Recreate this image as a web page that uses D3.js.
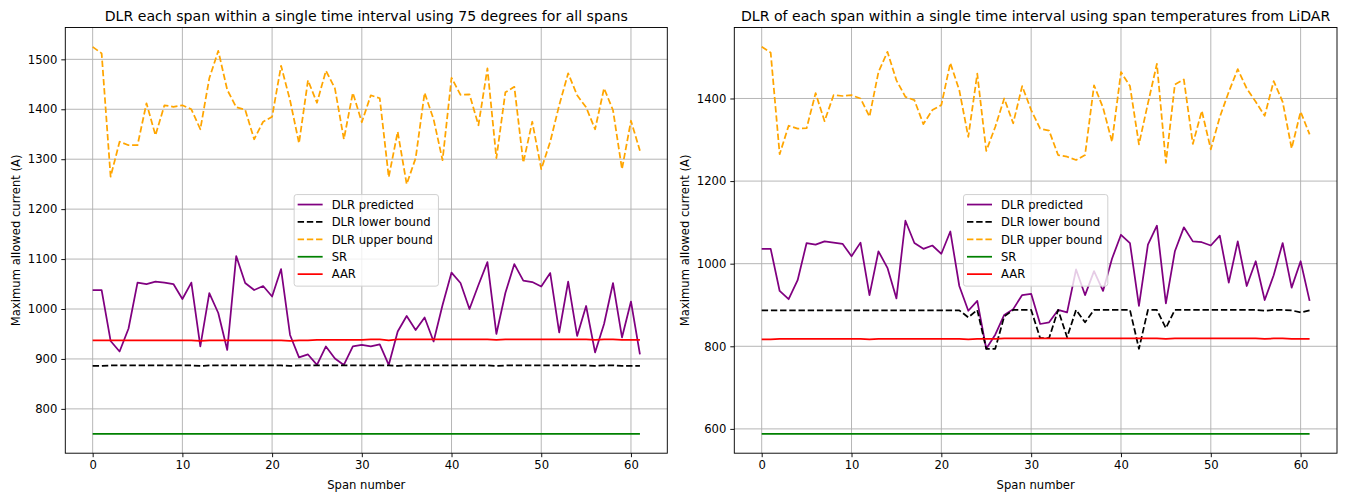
<!DOCTYPE html>
<html>
<head>
<meta charset="utf-8">
<script src="https://cdn.jsdelivr.net/npm/d3@7"></script>
<style>
  html, body { margin: 0; padding: 0; background: #fff; }
  svg text { font-family: "DejaVu Sans", sans-serif; fill: #000; }
</style>
</head>
<body>
<svg id="chart" width="1345" height="494"></svg>
<script>
// ---------------- DATA ----------------
const spanNumbers = d3.range(62);

const titles = [
  "DLR each span within a single time interval using 75 degrees for all spans",
  "DLR of each span within a single time interval using span temperatures from LiDAR"
];
const xLabel = "Span number";
const yLabel = "Maximum allowed current (A)";
const seriesNames = ["DLR predicted", "DLR lower bound", "DLR upper bound", "SR", "AAR"];
const xTicks = [0, 10, 20, 30, 40, 50, 60];
const yTicksLeft = [800, 900, 1000, 1100, 1200, 1300, 1400, 1500];
const yTicksRight = [600, 800, 1000, 1200, 1400];

// Left chart (75 degrees)
const predictedLeft = [1038, 1038, 936, 915, 961, 1053, 1050, 1055, 1053, 1050, 1020, 1053, 925, 1032, 992, 918, 1106, 1052, 1038, 1046, 1025, 1080, 948, 903, 909, 888, 925, 901, 888, 925, 928, 925, 929, 888, 955, 986, 958, 983, 935, 1008, 1073, 1052, 1000, 1048, 1094, 950, 1032, 1090, 1057, 1054, 1045, 1072, 953, 1055, 946, 1006, 913, 970, 1052, 943, 1015, 909];
const lowerLeft = [886, 886, 887, 887, 887, 887, 887, 887, 887, 887, 887, 887, 886, 887, 887, 887, 887, 887, 887, 887, 887, 887, 886, 887, 887, 887, 887, 887, 887, 887, 887, 887, 887, 887, 886, 887, 887, 887, 887, 887, 887, 887, 887, 887, 887, 886, 887, 887, 887, 887, 887, 887, 887, 887, 887, 887, 886, 887, 887, 886, 886, 886];
const upperLeft = [1525, 1512, 1265, 1335, 1328, 1328, 1412, 1348, 1408, 1405, 1408, 1400, 1360, 1462, 1517, 1439, 1404, 1399, 1340, 1375, 1385, 1487, 1418, 1332, 1458, 1413, 1477, 1442, 1340, 1433, 1374, 1428, 1422, 1264, 1355, 1250, 1302, 1433, 1380, 1298, 1463, 1429, 1430, 1368, 1482, 1302, 1434, 1445, 1293, 1375, 1280, 1335, 1408, 1472, 1428, 1404, 1360, 1442, 1398, 1280, 1377, 1317];
const srLeft = spanNumbers.map(() => 750);
const aarLeft = [937, 937, 937, 937, 937, 937, 937, 937, 937, 937, 937, 937, 936, 937, 937, 937, 937, 937, 937, 937, 937, 937, 936, 937, 937, 938, 938, 938, 938, 938, 938, 939, 939, 937, 939, 939, 939, 939, 939, 939, 939, 939, 939, 939, 939, 938, 939, 939, 939, 939, 939, 939, 939, 939, 939, 939, 938, 939, 939, 938, 938, 938];

// Right chart (LiDAR temperatures)
const predictedRight = [1036, 1036, 934, 914, 960, 1050, 1046, 1054, 1051, 1048, 1018, 1051, 924, 1030, 990, 916, 1104, 1050, 1036, 1044, 1024, 1078, 946, 886, 910, 794, 828, 876, 890, 924, 927, 854, 858, 888, 882, 986, 924, 982, 934, 1012, 1070, 1050, 898, 1046, 1092, 904, 1030, 1088, 1054, 1052, 1044, 1068, 954, 1054, 946, 1006, 912, 972, 1050, 942, 1006, 910];
const lowerRight = [887, 887, 887, 887, 887, 887, 887, 887, 887, 887, 887, 887, 887, 887, 887, 887, 887, 887, 887, 887, 887, 887, 887, 870, 888, 794, 794, 872, 888, 888, 888, 820, 820, 888, 822, 888, 858, 888, 888, 888, 888, 888, 794, 888, 888, 844, 888, 888, 888, 888, 888, 888, 888, 888, 888, 888, 886, 888, 888, 887, 882, 887];
const upperRight = [1525, 1511, 1265, 1334, 1327, 1328, 1413, 1345, 1408, 1406, 1408, 1400, 1356, 1464, 1513, 1444, 1404, 1396, 1338, 1372, 1384, 1486, 1420, 1307, 1460, 1273, 1331, 1400, 1340, 1430, 1372, 1327, 1322, 1263, 1259, 1251, 1263, 1432, 1378, 1295, 1464, 1430, 1289, 1388, 1484, 1244, 1434, 1446, 1290, 1370, 1277, 1355, 1416, 1471, 1424, 1392, 1358, 1442, 1392, 1279, 1368, 1313];
const srRight = spanNumbers.map(() => 588);
const aarRight = [817, 817, 818, 818, 818, 818, 818, 818, 818, 818, 818, 818, 817, 818, 818, 818, 818, 818, 818, 818, 818, 818, 818, 817, 818, 818, 818, 819, 819, 819, 819, 819, 819, 819, 819, 819, 819, 819, 819, 819, 819, 819, 819, 819, 819, 818, 819, 819, 819, 819, 819, 819, 819, 819, 819, 819, 818, 819, 819, 818, 818, 818];

// ---------------- STYLE / LAYOUT ----------------
const colors = ["purple", "black", "orange", "green", "red"];
const dashes = [null, "6.4,2.8", "6.4,2.8", null, null];
const FS = 11.6;      // tick / label / legend font size
const TFS = 14.1;     // title font size
const LW = 1.75;

const panels = [
  { left: 65.3, right: 667.3, top: 27.5, bottom: 453.2, title: titles[0], yTicks: yTicksLeft,
    series: [predictedLeft, lowerLeft, upperLeft, srLeft, aarLeft] },
  { left: 734.3, right: 1337, top: 27.5, bottom: 453.2, title: titles[1], yTicks: yTicksRight,
    series: [predictedRight, lowerRight, upperRight, srRight, aarRight] }
];

const svg = d3.select("#chart");

panels.forEach(p => {
  const g = svg.append("g");
  const all = p.series.flat();
  const ymin = d3.min(all), ymax = d3.max(all);
  const ypad = (ymax - ymin) * 0.05;
  const x = d3.scaleLinear().domain([-3.05, 64.05]).range([p.left, p.right]);
  const y = d3.scaleLinear().domain([ymin - ypad, ymax + ypad]).range([p.bottom, p.top]);

  // grid
  const grid = g.append("g").attr("stroke", "#b0b0b0").attr("stroke-width", 0.93);
  xTicks.forEach(t => grid.append("line").attr("x1", x(t)).attr("x2", x(t)).attr("y1", p.top).attr("y2", p.bottom));
  p.yTicks.forEach(t => grid.append("line").attr("x1", p.left).attr("x2", p.right).attr("y1", y(t)).attr("y2", y(t)));

  // lines
  const line = d3.line().x((d, i) => x(spanNumbers[i])).y(d => y(d));
  p.series.forEach((s, k) => {
    g.append("path").datum(s)
      .attr("d", line)
      .attr("fill", "none")
      .attr("stroke", colors[k])
      .attr("stroke-width", LW)
      .attr("stroke-linejoin", "round")
      .attr("stroke-dasharray", dashes[k]);
  });

  // axes
  const fmt = d3.format("d");
  const xAxis = d3.axisBottom(x).tickValues(xTicks).tickFormat(fmt).tickSize(4).tickPadding(4);
  const yAxis = d3.axisLeft(y).tickValues(p.yTicks).tickFormat(fmt).tickSize(4).tickPadding(4);
  const gx = g.append("g").attr("transform", `translate(0,${p.bottom})`).call(xAxis);
  const gy = g.append("g").attr("transform", `translate(${p.left},0)`).call(yAxis);
  [gx, gy].forEach(a => {
    a.select(".domain").remove();
    a.selectAll("line").attr("stroke", "#000").attr("stroke-width", 0.93);
    a.selectAll("text").attr("font-size", FS).attr("font-family", "DejaVu Sans").attr("fill", "#000");
  });

  // frame
  g.append("rect").attr("x", p.left).attr("y", p.top)
    .attr("width", p.right - p.left).attr("height", p.bottom - p.top)
    .attr("fill", "none").attr("stroke", "#000").attr("stroke-width", 0.93);

  // titles and labels
  const cx = (p.left + p.right) / 2, cy = (p.top + p.bottom) / 2;
  g.append("text").attr("x", cx).attr("y", 20.5).attr("text-anchor", "middle")
    .attr("font-size", TFS).text(p.title);
  g.append("text").attr("x", cx).attr("y", 488.5).attr("text-anchor", "middle")
    .attr("font-size", FS).text(xLabel);
  g.append("text").attr("transform", `translate(${p.left - 45},${cy}) rotate(-90)`)
    .attr("text-anchor", "middle").attr("font-size", FS).text(yLabel);

  // legend (centered)
  const lg = g.append("g");
  const rowH = 17.4;
  const handleLen = 25, pad = 3.5, gap = 9;
  const texts = seriesNames.map((n, k) => lg.append("text").attr("font-size", FS).text(n));
  const maxW = d3.max(texts, t => t.node().getComputedTextLength());
  const boxW = pad + handleLen + gap + maxW + pad + 2;
  const boxH = rowH * seriesNames.length + 4.6;
  const bx = cx - boxW / 2, by = cy - boxH / 2;
  lg.insert("rect", ":first-child").attr("x", bx).attr("y", by).attr("width", boxW).attr("height", boxH)
    .attr("rx", 2.5).attr("fill", "white").attr("fill-opacity", 0.8)
    .attr("stroke", "#cccccc").attr("stroke-width", 0.93);
  seriesNames.forEach((n, k) => {
    const ry = by + 10 + k * rowH;
    lg.append("line").attr("x1", bx + pad).attr("x2", bx + pad + handleLen)
      .attr("y1", ry).attr("y2", ry)
      .attr("stroke", colors[k]).attr("stroke-width", LW)
      .attr("stroke-dasharray", dashes[k]);
    texts[k].attr("x", bx + pad + handleLen + gap).attr("y", ry + 4.2);
  });
});
</script>
</body>
</html>
